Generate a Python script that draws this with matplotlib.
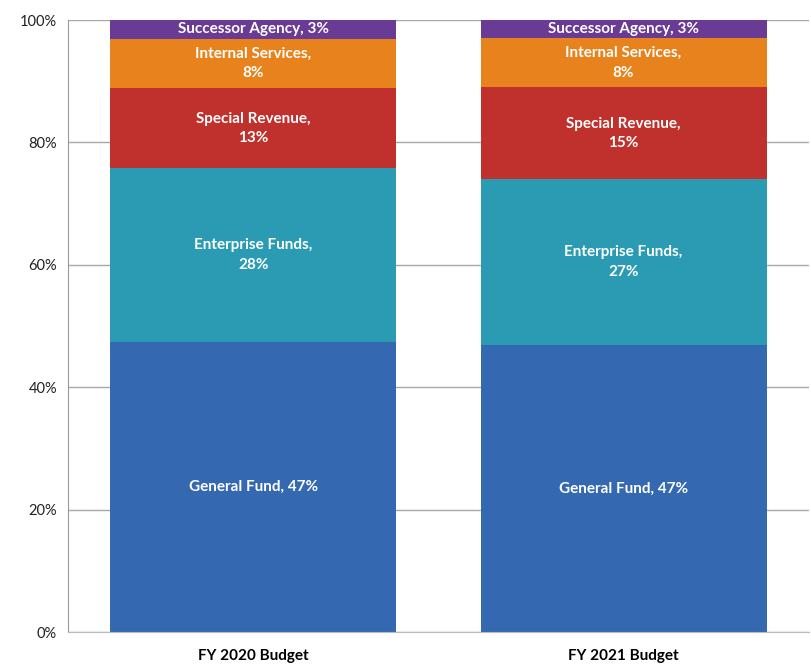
import matplotlib
matplotlib.use('Agg')
import matplotlib.pyplot as plt
import numpy as np

# budget share by fund type (percent)
budgets = ['FY 2020 Budget', 'FY 2021 Budget']
funds = ['General Fund', 'Enterprise Funds', 'Special Revenue', 'Internal Services', 'Successor Agency']
fy2020 = [47, 28, 13, 8, 3]
fy2021 = [47, 27, 15, 8, 3]

colors = ['#3468B0', '#2A9BB3', '#C0302C', '#E7821D', '#6A3B95']
# label layout: two-line labels where the text wraps in the reference
wrap = [False, True, True, True, False]

plt.rcParams['font.family'] = ['Lato', 'DejaVu Sans']

fig = plt.figure(figsize=(8.12, 6.69), dpi=100)
ax = fig.add_axes([0.084, 0.055, 0.912, 0.915])

data = np.array([fy2020, fy2021], dtype=float)
shares = data / data.sum(axis=1, keepdims=True) * 100
x = np.arange(len(budgets))
width = 0.773

bottom = np.zeros(len(budgets))
for k, fund in enumerate(funds):
    ax.bar(x, shares[:, k], width, bottom=bottom, color=colors[k],
           edgecolor='none', zorder=2)
    for i in range(len(budgets)):
        sep = ',\n' if wrap[k] else ', '
        txt = '%s%s%d%%' % (fund, sep, data[i, k])
        ax.text(x[i], bottom[i] + shares[i, k] / 2, txt, ha='center', va='center',
                color='white', fontsize=11, fontweight='bold', linespacing=1.5,
                zorder=3)
    bottom += shares[:, k]

ax.set_xlim(-0.5, 1.5)
ax.set_ylim(0, 100)
ax.set_yticks([0, 20, 40, 60, 80, 100])
ax.set_yticklabels(['0%', '20%', '40%', '60%', '80%', '100%'])
ax.set_xticks(x)
ax.set_xticklabels(budgets, fontsize=11, fontweight='bold')
ax.yaxis.grid(True, color='#a8a8a8', linewidth=1, zorder=0)
ax.tick_params(axis='y', length=0, pad=8, labelsize=10.5, colors='#222222')
ax.tick_params(axis='x', length=0, pad=12)
for s in ['top', 'right']:
    ax.spines[s].set_visible(False)
ax.spines['left'].set_color('#999999')
ax.spines['bottom'].set_color('#bbbbbb')

fig.savefig('out.png', dpi=100)
